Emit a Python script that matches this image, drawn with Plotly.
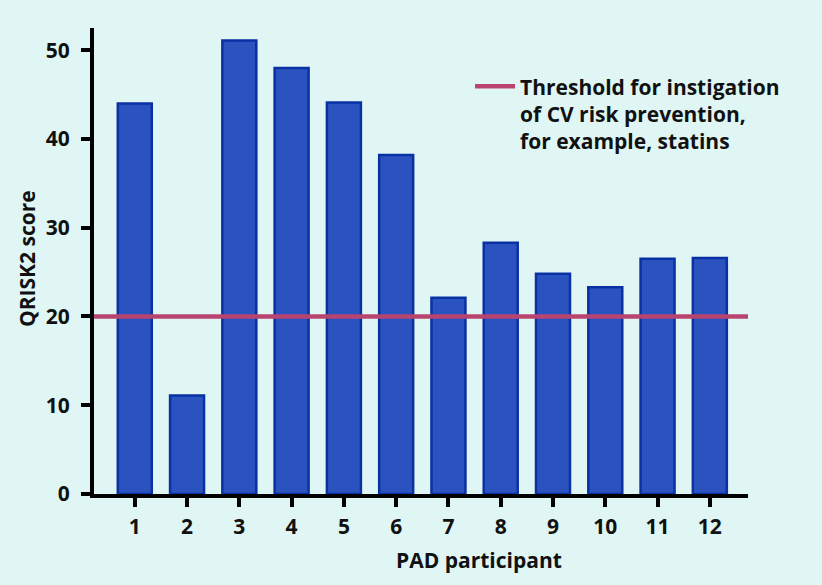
import plotly.graph_objects as go

participants = [1, 2, 3, 4, 5, 6, 7, 8, 9, 10, 11, 12]
qrisk2_scores = [44.0, 11.1, 51.1, 48.0, 44.1, 38.2, 22.1, 28.3, 24.8, 23.3, 26.5, 26.6]
threshold_value = 20
y_ticks = [0, 10, 20, 30, 40, 50]
x_title = "PAD participant"
y_title = "QRISK2 score"
legend_label = "Threshold for instigation<br>of CV risk prevention,<br>for example, statins"

x_range = [0.22, 12.73]
y_range = [0, 52.5]

bg = "#e0f6f4"
font_family = "'Open Sans', Roboto, 'DejaVu Sans', sans-serif"
FS = 21

fig = go.Figure()
fig.add_trace(go.Bar(
    x=participants, y=qrisk2_scores,
    marker=dict(color="#2b53bf", line=dict(color="#0a31a4", width=2.5)),
    width=0.65, showlegend=False,
))
fig.add_trace(go.Scatter(
    x=x_range, y=[threshold_value, threshold_value], mode="lines",
    line=dict(color="#b9446f", width=4.5),
    name=legend_label, showlegend=True,
))

fig.update_layout(
    width=822, height=585,
    paper_bgcolor=bg, plot_bgcolor=bg,
    margin=dict(l=94, r=74, t=28, b=91),
    font=dict(family=font_family, size=FS, color="#111111", weight="bold"),
    legend=dict(x=0.575, y=0.918, xanchor="left", yanchor="top", valign="top",
                bgcolor="rgba(0,0,0,0)", font=dict(size=FS, weight="bold"),
                itemwidth=40, tracegroupgap=0),
    bargap=0.35,
    annotations=[
        dict(text=x_title, xref="paper", yref="paper",
             x=(479 - 94) / 654, y=-(560 - 494) / 466,
             xanchor="center", yanchor="middle", showarrow=False,
             font=dict(size=FS, weight="bold")),
        dict(text=y_title, xref="paper", yref="paper", textangle=-90,
             x=(27 - 94) / 654, y=(494 - 259) / 466,
             xanchor="center", yanchor="middle", showarrow=False,
             font=dict(size=FS, weight="bold")),
    ],
)
fig.update_xaxes(
    range=x_range, tickmode="array", tickvals=participants,
    ticktext=[str(p) for p in participants],
    showline=True, linecolor="#000000", linewidth=4,
    ticks="outside", ticklen=9, tickwidth=3.5, tickcolor="#000000",
    showgrid=False, zeroline=False, ticklabelstandoff=2,
)
fig.update_yaxes(
    range=y_range, tickmode="array", tickvals=y_ticks,
    showline=True, linecolor="#000000", linewidth=4,
    ticks="outside", ticklen=9, tickwidth=3.5, tickcolor="#000000",
    showgrid=False, zeroline=False, ticklabelstandoff=7,
)

fig.write_html("out.html", config={"displayModeBar": False},
               post_script="document.body.style.margin='0';document.body.style.background='#e0f6f4';")
